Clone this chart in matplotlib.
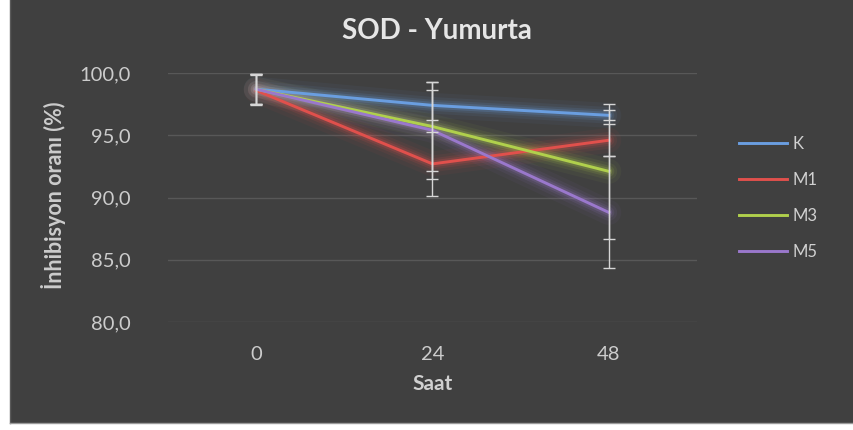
import matplotlib
matplotlib.use("Agg")
import matplotlib.pyplot as plt
from matplotlib.patches import Rectangle
from matplotlib.lines import Line2D
import numpy as np

hours = ["0", "24", "48"]
series_names = ["K", "M1", "M3", "M5"]
K_vals = [98.7, 97.4, 96.6]
M1_vals = [98.6, 92.7, 94.6]
M3_vals = [98.7, 95.7, 92.1]
M5_vals = [98.7, 95.4, 88.8]
K_err = [1.2, 1.2, 0.4]
M1_err = [1.2, 2.6, 1.3]
M3_err = [1.2, 3.6, 5.4]
M5_err = [1.2, 3.9, 4.5]
y_ticks = [80, 85, 90, 95, 100]
y_tick_labels = ["80,0", "85,0", "90,0", "95,0", "100,0"]

values = [K_vals, M1_vals, M3_vals, M5_vals]
errors = [K_err, M1_err, M3_err, M5_err]
colors = ["#6a9ee0", "#e0504c", "#b0d04c", "#9a78cc"]

plt.rcParams['font.family'] = ['Lato', 'DejaVu Sans']

W, H = 854, 430
fig = plt.figure(figsize=(W / 100, H / 100), dpi=100, facecolor="white")
bg = "#404040"
fig.patches.append(Rectangle((10 / W, 7 / H), 1 - 10 / W, 1 - 7 / H,
                             transform=fig.transFigure, facecolor=bg,
                             edgecolor="none", zorder=-10))
fig.lines.append(Line2D([10 / W, 10 / W], [7 / H, 1], transform=fig.transFigure,
                        color="#5a5a5a", lw=1.0, zorder=-9))
fig.lines.append(Line2D([10 / W, 1], [7 / H, 7 / H], transform=fig.transFigure,
                        color="#9a9a9a", lw=1.0, zorder=-9))

ax = fig.add_axes([168 / W, 1 - 322 / H, (697 - 168) / W, (322 - 73) / H])
ax.set_zorder(5)
ax.patch.set_alpha(0)
x = np.arange(len(hours))

for vals, errs, c, name in zip(values, errors, colors, series_names):
    for lw, a in [(18, 0.05), (12, 0.08), (8, 0.12), (5, 0.2)]:
        ax.plot(x, vals, color=c, lw=lw, alpha=a, solid_capstyle="round", zorder=2)
    ax.plot(x, vals, color=c, lw=2.1, zorder=3, label=name)

for vals, errs in zip(values, errors):
    ax.errorbar(x, vals, yerr=errs, fmt="none", ecolor="#d6d6d6",
                elinewidth=1.0, capsize=4, capthick=1.0, zorder=4)

ax.set_xlim(-0.5, 2.5)
ax.set_ylim(80, 100)
ax.set_yticks(y_ticks)
ax.set_yticklabels(y_tick_labels)
ax.set_xticks(x)
ax.set_xticklabels(hours)
ax.grid(axis="y", color="#585858", lw=1.0, zorder=1)
ax.set_axisbelow(True)
for s in ax.spines.values():
    s.set_visible(False)
ax.tick_params(axis="both", length=0, colors="#cccccc", labelsize=14.5)
ax.tick_params(axis="y", pad=27)
ax.tick_params(axis="x", pad=17)

fig.text(437 / W, 1 - 31 / H, "SOD - Yumurta", ha="center", va="center",
         color="#e6e6e6", fontsize=20, fontweight="bold")
fig.text(433 / W, 1 - 384 / H, "Saat", ha="center", va="center",
         color="#d0d0d0", fontsize=15, fontweight="bold")
fig.text(54 / W, 1 - 195 / H, "İnhibisyon oranı (%)", ha="center", va="center",
         rotation=90, color="#cccccc", fontsize=15.5, fontweight="bold")

leg = ax.legend(loc="upper left", bbox_to_anchor=(724 / W, 1 - 121 / H),
                bbox_transform=fig.transFigure, frameon=False,
                labelcolor="#d0d0d0", fontsize=12, handlelength=2.9,
                handletextpad=0.3, labelspacing=1.2)

fig.savefig("out.png", dpi=100, facecolor=fig.get_facecolor())
